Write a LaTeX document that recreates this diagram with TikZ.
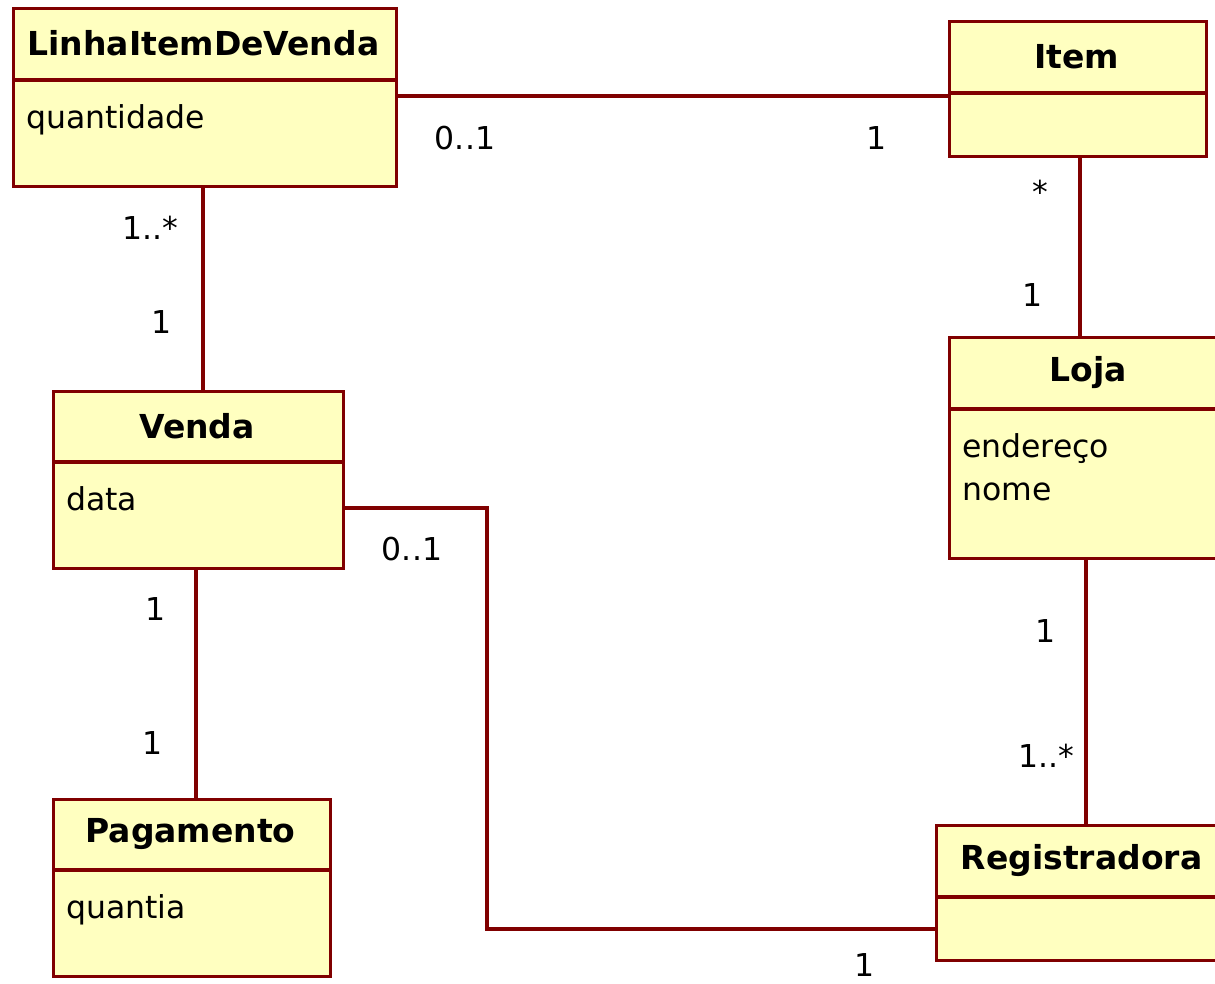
\documentclass[tikz,border=0pt]{standalone}
\usepackage{fontspec}
\setmainfont{DejaVu Sans}
\usetikzlibrary{calc}
\definecolor{umlborder}{HTML}{800000}
\definecolor{umlfill}{HTML}{FFFFC0}
\tikzset{
  umlbox/.style={draw=umlborder, fill=umlfill, line width=3.2pt, rectangle,
    inner sep=0pt, anchor=north west},
  umltitle/.style={font=\fontsize{33}{40}\selectfont\bfseries, inner sep=0pt, anchor=center},
  umlattr/.style={font=\fontsize{31.5}{43}\selectfont, inner sep=0pt, anchor=north west,
    align=left, text depth=0pt},
  assoc/.style={draw=umlborder, line width=3.2pt},
  mult/.style={font=\fontsize{31.5}{38}\selectfont, inner sep=0pt, anchor=center},
}
% \umlclass{name}{x}{y}{width}{height}{header height}{title}{attributes}
\newcommand{\umlclass}[8]{%
  \node[umlbox, minimum width=#4pt, minimum height=#5pt] (#1) at (#2,#3) {};
  \draw[draw=umlborder, line width=3.2pt] (#2,#3+#6) -- (#2+#4,#3+#6);
  \node[umltitle] (#1-title) at ($(#2,#3)!0.5!(#2+#4,#3+#6)$) {#7};
  \node[umlattr] (#1-attrs) at (#2+14,#3+#6+24) {#8};
}
\begin{document}
\begin{tikzpicture}[x=1pt, y=-1pt]
  \clip (0,0) rectangle (1215,984);
  \fill[white] (0,0) rectangle (1215,984);

  % classes
  \umlclass{linha}{12}{7}{383}{178}{73}{LinhaItemDeVenda}{quantidade}
  \umlclass{item}{948}{20}{257}{135}{73}{Item}{}
  \umlclass{loja}{948}{336}{280}{221}{73}{Loja}{endereço\\nome}
  \umlclass{venda}{52}{390}{290}{177}{72}{Venda}{data}
  \umlclass{pag}{52}{798}{277}{177}{72}{Pagamento}{quantia}
  \umlclass{reg}{935}{824}{293}{135}{73}{Registradora}{}

  % associations
  \draw[assoc] (linha.east |- 0,96) -- (item.west |- 0,96);
  \draw[assoc] (linha.south -| 203,0) -- (venda.north -| 203,0);
  \draw[assoc] (item.south -| 1080,0) -- (loja.north -| 1080,0);
  \draw[assoc] (venda.south -| 196,0) -- (pag.north -| 196,0);
  \draw[assoc] (loja.south -| 1086,0) -- (reg.north -| 1086,0);
  \draw[assoc] (venda.east |- 0,508) -| (487,929) -- (reg.west |- 0,929);

  % multiplicities
  \node[mult] (m1) at (465,138) {0..1};
  \node[mult] (m2) at (877,138) {1};
  \node[mult] (m3) at (150,228) {1..*};
  \node[mult] (m4) at (162,322) {1};
  \node[mult] (m5) at (1040,192) {*};
  \node[mult] (m6) at (1033,295) {1};
  \node[mult] (m7) at (412,549) {0..1};
  \node[mult] (m8) at (156,609) {1};
  \node[mult] (m9) at (153,743) {1};
  \node[mult] (m10) at (1046,631) {1};
  \node[mult] (m11) at (1046,756) {1..*};
  \node[mult] (m12) at (865,965) {1};
\end{tikzpicture}
\end{document}
